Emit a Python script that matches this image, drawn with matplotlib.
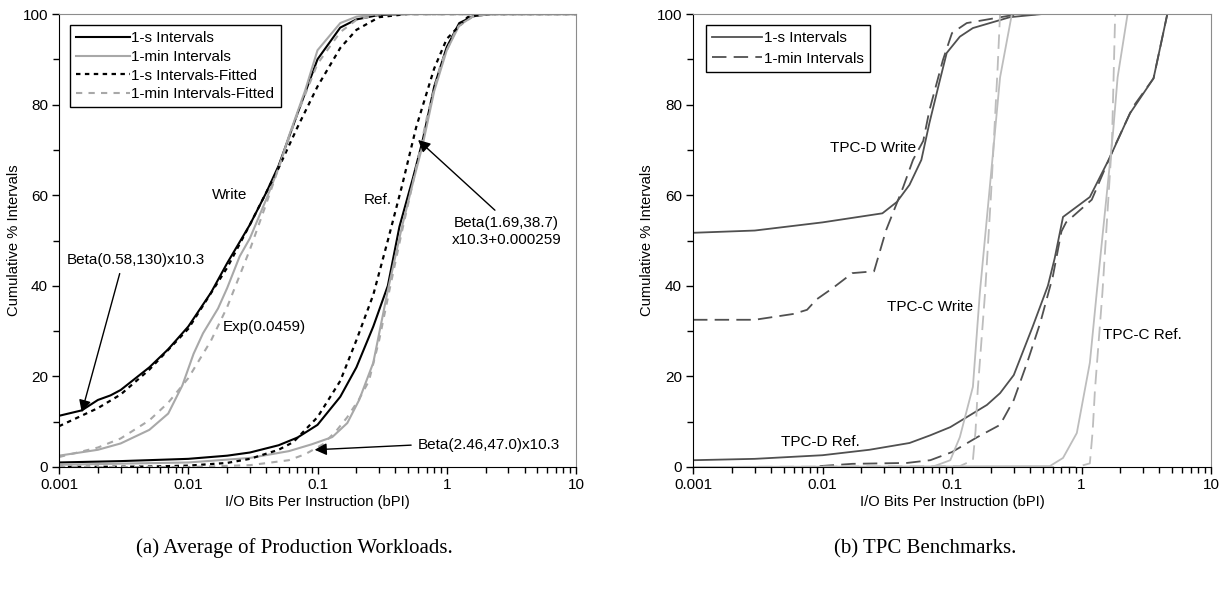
import numpy as np
import matplotlib
matplotlib.use("Agg")
from matplotlib import pyplot as plt
from matplotlib.ticker import FixedLocator, LogLocator, NullFormatter, MultipleLocator

plt.rcParams['font.family'] = ['Liberation Sans', 'DejaVu Sans']

##################################  data  #####################################

# (a) production workloads, write
write_1s_x = [0.001, 0.0015, 0.002, 0.0025, 0.003, 0.005, 0.007, 0.01, 0.015, 0.02, 0.03,
              0.04, 0.05, 0.07, 0.1, 0.15, 0.2, 0.3, 0.5, 10]
write_1s_y = [11.3, 12.5, 14.8, 15.8, 17.0, 22.0, 26.0, 31.0, 38.5, 45.0, 53.5,
              60.5, 66.5, 78.0, 90.0, 97.0, 98.8, 99.8, 100, 100]
write_1min_x = [0.001, 0.002, 0.003, 0.005, 0.007, 0.009, 0.011, 0.013, 0.017, 0.02, 0.025,
                0.03, 0.04, 0.05, 0.06, 0.08, 0.1, 0.15, 0.2, 0.3, 10]
write_1min_y = [2.5, 3.8, 5.2, 8.2, 11.8, 18.0, 25.0, 29.5, 35.0, 39.5, 46.5,
                50.5, 59.0, 66.0, 73.0, 83.0, 92.0, 98.0, 99.4, 100, 100]
write_1s_fit_x = [0.001, 0.002, 0.003, 0.005, 0.01, 0.02, 0.03, 0.05, 0.07, 0.1, 0.15, 0.2,
                  0.3, 0.5, 10]
write_1s_fit_y = [9.0, 13.0, 16.0, 21.5, 30.5, 44.0, 53.5, 66.0, 75.0, 84.0, 92.5, 96.5,
                  99.3, 100, 100]
write_1min_fit_x = [0.001, 0.002, 0.003, 0.005, 0.007, 0.01, 0.015, 0.02, 0.03, 0.04, 0.05,
                    0.07, 0.1, 0.15, 0.2, 0.3, 10]
write_1min_fit_y = [2.2, 4.3, 6.3, 10.3, 14.2, 19.6, 27.9, 35.3, 48.0, 58.0, 66.0,
                    78.0, 89.0, 96.0, 98.7, 99.9, 100]

# (a) production workloads, reference
ref_1s_x = [0.001, 0.003, 0.01, 0.02, 0.03, 0.05, 0.07, 0.1, 0.15, 0.2, 0.27, 0.35, 0.43,
            0.55, 0.65, 0.8, 1.0, 1.25, 1.6, 2.2, 10]
ref_1s_y = [1.0, 1.3, 1.8, 2.5, 3.2, 4.8, 6.5, 9.3, 15.5, 22.0, 31.0, 40.0, 53.0,
            64.0, 72.0, 84.0, 92.7, 98.0, 99.5, 100, 100]
ref_1min_x = [0.001, 0.01, 0.03, 0.06, 0.09, 0.13, 0.17, 0.21, 0.27, 0.35, 0.45, 0.55,
              0.65, 0.8, 1.0, 1.25, 1.6, 2.2, 10]
ref_1min_y = [0.5, 1.0, 2.0, 3.5, 5.0, 6.6, 9.7, 14.8, 23.0, 39.0, 53.0, 63.0,
              71.0, 83.0, 92.0, 97.5, 99.5, 100, 100]
ref_1s_fit_x = [0.001, 0.005, 0.01, 0.02, 0.03, 0.05, 0.065, 0.1, 0.15, 0.2, 0.27, 0.35,
                0.45, 0.58, 0.8, 1.0, 1.45, 2.0, 10]
ref_1s_fit_y = [0.0, 0.1, 0.3, 0.9, 1.8, 3.8, 5.5, 11.0, 19.0, 28.0, 38.0, 50.0,
                62.0, 75.0, 88.0, 94.5, 99.3, 100, 100]
ref_1min_fit_x = [0.001, 0.01, 0.03, 0.06, 0.08, 0.11, 0.14, 0.17, 0.21, 0.25, 0.3, 0.36,
                  0.45, 0.55, 0.7, 0.9, 1.2, 1.6, 2.2, 10]
ref_1min_fit_y = [0.0, 0.0, 0.4, 1.5, 2.8, 5.0, 8.0, 11.0, 15.0, 19.0, 28.0, 39.0,
                  52.0, 63.0, 77.0, 89.0, 97.0, 99.5, 100, 100]

# (b) TPC benchmarks
tpcd_w_1s_x = [0.001, 0.003, 0.01, 0.029, 0.0375, 0.047, 0.058, 0.067, 0.08, 0.091, 0.115,
               0.145, 0.28, 0.5, 4.6]
tpcd_w_1s_y = [51.7, 52.2, 54.0, 56.0, 58.5, 62.3, 67.8, 76.0, 85.0, 91.4, 95.0,
               96.9, 99.3, 100, 100]
tpcd_w_1min_x = [0.001, 0.003, 0.006, 0.0076, 0.009, 0.012, 0.017, 0.025, 0.031, 0.042,
                 0.05, 0.06, 0.067, 0.085, 0.1, 0.13, 0.3, 0.5, 4.6]
tpcd_w_1min_y = [32.5, 32.5, 33.8, 34.7, 37.0, 39.5, 42.8, 43.2, 52.3, 61.8,
                 67.8, 72.0, 78.8, 89.8, 95.8, 98.0, 99.8, 100, 100]
tpcd_r_1s_x = [0.001, 0.003, 0.01, 0.023, 0.047, 0.068, 0.097, 0.186, 0.235, 0.3, 0.42,
               0.55, 0.62, 0.72, 1.16, 1.66, 2.36, 3.6, 4.6]
tpcd_r_1s_y = [1.5, 1.8, 2.6, 3.8, 5.3, 7.0, 8.8, 13.7, 16.3, 20.3, 31.0,
               40.0, 46.0, 55.2, 59.6, 68.4, 78.0, 85.8, 100]
tpcd_r_1min_x = [0.0095, 0.017, 0.045, 0.068, 0.1, 0.157, 0.235, 0.3, 0.38, 0.48, 0.6,
                 0.7, 0.76, 1.2, 1.75, 2.5, 3.6, 4.6]
tpcd_r_1min_y = [0.2, 0.7, 0.9, 1.5, 3.3, 6.6, 9.3, 14.8, 23.0, 31.8, 42.0,
                 52.0, 54.0, 59.0, 70.0, 79.5, 85.8, 100]
tpcc_w_1s_x = [0.001, 0.07, 0.097, 0.115, 0.145, 0.164, 0.2, 0.235, 0.29, 4.6]
tpcc_w_1s_y = [0.0, 0.0, 1.5, 6.6, 17.7, 38.4, 64.6, 86.0, 100, 100]
tpcc_w_1min_x = [0.001, 0.115, 0.145, 0.152, 0.158, 0.18, 0.2, 0.225, 0.235, 4.6]
tpcc_w_1min_y = [0.0, 0.2, 1.5, 8.0, 17.0, 38.4, 60.0, 88.0, 100, 100]
tpcc_r_1s_x = [0.001, 0.57, 0.72, 0.92, 1.16, 1.31, 1.75, 1.9, 2.27, 4.6]
tpcc_r_1s_y = [0.0, 0.2, 2.0, 7.5, 23.0, 38.4, 73.7, 86.0, 100, 100]
tpcc_r_1min_x = [0.001, 0.92, 1.16, 1.22, 1.27, 1.45, 1.72, 1.82, 4.6]
tpcc_r_1min_y = [0.0, 0.0, 0.8, 8.0, 17.0, 38.4, 72.0, 100, 100]

x_ticks = [0.001, 0.01, 0.1, 1, 10]
x_tick_labels = ['0.001', '0.01', '0.1', '1', '10']

##################################  styling  ##################################

BLACK = 'black'
GREY = '#a8a8a8'
DARK = '#505050'
LIGHT = '#bdbdbd'
FS = 11


def setup_axes(ax, ylabel_x):
    ax.set_xscale('log')
    ax.set_xlim(0.001, 10)
    ax.set_ylim(0, 100)
    ax.xaxis.set_major_locator(FixedLocator(x_ticks))
    ax.set_xticklabels(x_tick_labels)
    ax.xaxis.set_minor_locator(LogLocator(base=10, subs=np.arange(2, 10)))
    ax.xaxis.set_minor_formatter(NullFormatter())
    ax.yaxis.set_major_locator(MultipleLocator(20))
    ax.yaxis.set_minor_locator(MultipleLocator(10))
    ax.tick_params(which='both', direction='out', labelsize=FS, pad=3, width=1)
    ax.tick_params(which='major', length=5)
    ax.tick_params(which='minor', length=4)
    for side in ('top', 'right'):
        ax.spines[side].set_color('#8c8c8c')
    for side in ('left', 'bottom'):
        ax.spines[side].set_color('black')
    ax.set_xlabel('I/O Bits Per Instruction (bPI)', fontsize=10.6, labelpad=2)
    ax.set_ylabel('Cumulative % Intervals', fontsize=10.6)
    ax.yaxis.set_label_coords(ylabel_x, 0.5)


fig = plt.figure(figsize=(12.25, 5.93), dpi=100)
ax1 = fig.add_axes([59 / 1225, 1 - 467 / 593, 517 / 1225, 453 / 593])
ax2 = fig.add_axes([693 / 1225, 1 - 467 / 593, 518 / 1225, 453 / 593])

##################################  (a)  ######################################

setup_axes(ax1, -0.074)
l1, = ax1.plot(write_1s_x, write_1s_y, color=BLACK, lw=1.5)
l2, = ax1.plot(write_1min_x, write_1min_y, color=GREY, lw=1.5)
l3, = ax1.plot(write_1s_fit_x, write_1s_fit_y, color=BLACK, lw=1.6, ls=(0, (2, 2)))
l4, = ax1.plot(write_1min_fit_x, write_1min_fit_y, color=GREY, lw=1.5, ls=(0, (3, 3)))
ax1.plot(ref_1s_x, ref_1s_y, color=BLACK, lw=1.5)
ax1.plot(ref_1min_x, ref_1min_y, color=GREY, lw=1.5)
ax1.plot(ref_1s_fit_x, ref_1s_fit_y, color=BLACK, lw=1.6, ls=(0, (2, 2)))
ax1.plot(ref_1min_fit_x, ref_1min_fit_y, color=GREY, lw=1.5, ls=(0, (3, 3)))

leg = ax1.legend([l1, l2, l3, l4],
                 ['1-s Intervals', '1-min Intervals', '1-s Intervals-Fitted', '1-min Intervals-Fitted'],
                 loc='upper left', bbox_to_anchor=(0.022, 0.975), fontsize=FS, handlelength=3.5,
                 handletextpad=0.1, labelspacing=0.3, borderpad=0.4, fancybox=False,
                 framealpha=1, edgecolor='black', borderaxespad=0)
leg.get_frame().set_linewidth(1.0)

ax1.text(0.021, 60, 'Write', fontsize=FS, ha='center', va='center')
ax1.text(0.29, 59, 'Ref.', fontsize=FS, ha='center', va='center')
ax1.text(0.039, 31, 'Exp(0.0459)', fontsize=FS, ha='center', va='center')

arrow = dict(arrowstyle='-|>', color='black', lw=1.0, mutation_scale=18, shrinkA=3, shrinkB=0)
ax1.annotate('Beta(0.58,130)x10.3', xy=(0.0015, 12.1), xytext=(0.0039, 44.2),
             fontsize=FS, ha='center', va='bottom', arrowprops=dict(arrow, relpos=(0.4, 0.0)))
ax1.annotate('Beta(1.69,38.7)\nx10.3+0.000259', xy=(0.6, 72.2), xytext=(2.9, 52),
             fontsize=FS, ha='center', va='center', linespacing=1.3,
             arrowprops=dict(arrow, relpos=(0.45, 1.0)))
ax1.annotate('Beta(2.46,47.0)x10.3', xy=(0.095, 3.8), xytext=(0.6, 4.9),
             fontsize=FS, ha='left', va='center', arrowprops=dict(arrow, relpos=(0.0, 0.5)))

##################################  (b)  ######################################

setup_axes(ax2, -0.075)
dash = (0, (8, 4))
m1, = ax2.plot(tpcd_w_1s_x, tpcd_w_1s_y, color=DARK, lw=1.3)
m2, = ax2.plot(tpcd_w_1min_x, tpcd_w_1min_y, color=DARK, lw=1.3, ls=dash)
ax2.plot(tpcd_r_1s_x, tpcd_r_1s_y, color=DARK, lw=1.3)
ax2.plot(tpcd_r_1min_x, tpcd_r_1min_y, color=DARK, lw=1.3, ls=dash)
ax2.plot(tpcc_w_1s_x, tpcc_w_1s_y, color=LIGHT, lw=1.3)
ax2.plot(tpcc_w_1min_x, tpcc_w_1min_y, color=LIGHT, lw=1.3, ls=dash)
ax2.plot(tpcc_r_1s_x, tpcc_r_1s_y, color=LIGHT, lw=1.3)
ax2.plot(tpcc_r_1min_x, tpcc_r_1min_y, color=LIGHT, lw=1.3, ls=dash)

leg2 = ax2.legend([m1, m2], ['1-s Intervals', '1-min Intervals'],
                  loc='upper left', bbox_to_anchor=(0.025, 0.975), fontsize=FS, handlelength=3.3,
                  handletextpad=0.1, labelspacing=0.4, borderpad=0.4, fancybox=False,
                  framealpha=1, edgecolor='black', borderaxespad=0)
leg2.get_frame().set_linewidth(1.0)

ax2.text(0.0245, 70.4, 'TPC-D Write', fontsize=FS, ha='center', va='center')
ax2.text(0.068, 35.3, 'TPC-C Write', fontsize=FS, ha='center', va='center')
ax2.text(0.0096, 5.5, 'TPC-D Ref.', fontsize=FS, ha='center', va='center')
ax2.text(2.93, 29.1, 'TPC-C Ref.', fontsize=FS, ha='center', va='center')

##################################  captions  #################################

fig.text(294 / 1225, 0.075, '(a) Average of Production Workloads.', fontsize=15,
         family='Liberation Serif', ha='center', va='center')
fig.text(925 / 1225, 0.075, '(b) TPC Benchmarks.', fontsize=15,
         family='Liberation Serif', ha='center', va='center')

fig.savefig('out.png', dpi=100)
